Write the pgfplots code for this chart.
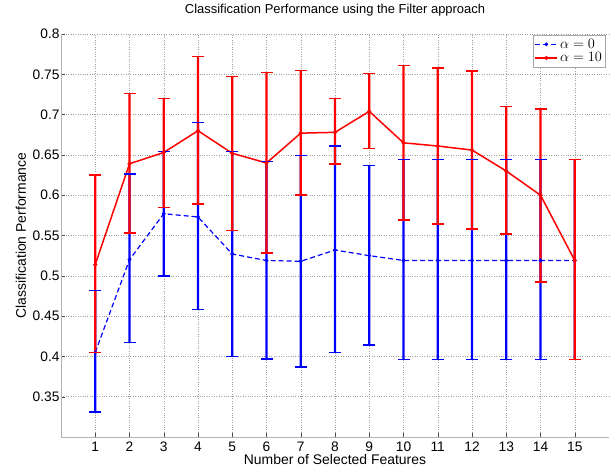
\documentclass[border=0pt]{standalone}
\usepackage{fontspec}
\setmainfont{Liberation Sans}
\usepackage{pgfplots}
\usepackage{pgfplotstable}
\pgfplotsset{compat=1.18}

\pgfplotstableread{
x y top bot
1 0.405 0.482 0.331
2 0.520 0.626 0.417
3 0.577 0.654 0.500
4 0.573 0.690 0.458
5 0.527 0.654 0.400
6 0.519 0.642 0.397
7 0.518 0.649 0.387
8 0.532 0.661 0.405
9 0.525 0.637 0.414
10 0.519 0.644 0.396
11 0.519 0.644 0.396
12 0.519 0.644 0.396
13 0.519 0.644 0.396
14 0.519 0.644 0.396
15 0.519 0.644 0.396
}\bluetab

\pgfplotstableread{
x y top bot
1 0.514 0.625 0.405
2 0.639 0.726 0.553
3 0.653 0.720 0.585
4 0.680 0.772 0.589
5 0.652 0.747 0.556
6 0.640 0.752 0.528
7 0.677 0.755 0.600
8 0.678 0.720 0.639
9 0.704 0.751 0.658
10 0.665 0.761 0.569
11 0.661 0.758 0.564
12 0.656 0.754 0.558
13 0.630 0.710 0.552
14 0.600 0.707 0.492
15 0.519 0.644 0.396
}\redtab

\begin{document}
\begin{tikzpicture}
\begin{axis}[
  name=a,
  scale only axis,
  width=548bp, height=403bp,
  xmin=0, xmax=16, ymin=0.3, ymax=0.8,
  xtick={1,...,15},
  ytick={0.35,0.4,0.45,0.5,0.55,0.6,0.65,0.7,0.75,0.8},
  xticklabel={\mbox{\pgfmathprintnumber[assume math mode=true]{\tick}}},
  yticklabel={\mbox{\pgfmathprintnumber[assume math mode=true]{\tick}}},
  axis lines*=left,
  axis line style={gray!60, line width=0.8bp},
  tick style={gray!60!black},
  tick align=inside,
  major tick length=4bp,
  grid=major,
  major grid style={dotted, gray!75, line width=0.5bp},
  tick label style={font=\fontsize{13.8}{15}\selectfont},
  xticklabel style={anchor=center, inner sep=0pt, yshift=-9.5bp},
  yticklabel style={xshift=2bp},
  /pgf/number format/assume math mode=true,
  title={Classification Performance using the Filter approach},
  title style={font=\fontsize{13}{15}\selectfont, at={(axis description cs:0.5,1)}, anchor=center, yshift=18bp},
  xlabel={Number of Selected Features},
  ylabel={Classification Performance},
  label style={font=\fontsize{14}{16}\selectfont},
  xlabel style={at={(axis description cs:0.5,0)}, anchor=base, inner sep=0pt, yshift=-27bp},
  ylabel style={at={(axis description cs:-0.073,0.5)}, anchor=center},
  legend style={at={(rel axis cs:0.994,0.997)}, anchor=north east,
    draw=gray!70, font=\fontsize{14}{16}\selectfont,
    row sep=-1bp, inner sep=1.5bp},
  legend cell align=left,
  legend image code/.code={\draw[mark repeat=2,mark phase=2,#1] plot coordinates {(0bp,0bp) (11bp,0bp) (22bp,0bp)};},
  unbounded coords=jump,
]
% blue error bars (alpha = 0), as thin filled bars
\addplot[fill=blue, draw=none, forget plot] coordinates {
 (0.97,0.331) (1.03,0.331) (1.03,0.482) (0.97,0.482) (1,nan)
 (1.97,0.417) (2.03,0.417) (2.03,0.626) (1.97,0.626) (2,nan)
 (2.97,0.500) (3.03,0.500) (3.03,0.654) (2.97,0.654) (3,nan)
 (3.97,0.458) (4.03,0.458) (4.03,0.690) (3.97,0.690) (4,nan)
 (4.97,0.400) (5.03,0.400) (5.03,0.654) (4.97,0.654) (5,nan)
 (5.97,0.397) (6.03,0.397) (6.03,0.642) (5.97,0.642) (6,nan)
 (6.97,0.387) (7.03,0.387) (7.03,0.649) (6.97,0.649) (7,nan)
 (7.97,0.405) (8.03,0.405) (8.03,0.661) (7.97,0.661) (8,nan)
 (8.97,0.414) (9.03,0.414) (9.03,0.637) (8.97,0.637) (9,nan)
 (9.97,0.396) (10.03,0.396) (10.03,0.644) (9.97,0.644) (10,nan)
 (10.97,0.396) (11.03,0.396) (11.03,0.644) (10.97,0.644) (11,nan)
 (11.97,0.396) (12.03,0.396) (12.03,0.644) (11.97,0.644) (12,nan)
 (12.97,0.396) (13.03,0.396) (13.03,0.644) (12.97,0.644) (13,nan)
 (13.97,0.396) (14.03,0.396) (14.03,0.644) (13.97,0.644) (14,nan)
 (14.97,0.396) (15.03,0.396) (15.03,0.644) (14.97,0.644)
};
\addplot[blue, only marks, mark=-, mark size=6bp, mark options={solid, line width=1.5bp}, forget plot] table[x=x, y=top] {\bluetab};
\addplot[blue, only marks, mark=-, mark size=6bp, mark options={solid, line width=1.5bp}, forget plot] table[x=x, y=bot] {\bluetab};
\addplot[blue, dash pattern=on 5bp off 3bp, line width=1.2bp, mark=*, mark size=1.2bp, mark options={solid}]
  table[x=x, y=y] {\bluetab};
\addlegendentry{$\alpha = 0$}
% red error bars (alpha = 10), as thin filled bars
\addplot[fill=red, draw=none, forget plot] coordinates {
 (0.97,0.405) (1.03,0.405) (1.03,0.625) (0.97,0.625) (1,nan)
 (1.97,0.553) (2.03,0.553) (2.03,0.726) (1.97,0.726) (2,nan)
 (2.97,0.585) (3.03,0.585) (3.03,0.720) (2.97,0.720) (3,nan)
 (3.97,0.589) (4.03,0.589) (4.03,0.772) (3.97,0.772) (4,nan)
 (4.97,0.556) (5.03,0.556) (5.03,0.747) (4.97,0.747) (5,nan)
 (5.97,0.528) (6.03,0.528) (6.03,0.752) (5.97,0.752) (6,nan)
 (6.97,0.600) (7.03,0.600) (7.03,0.755) (6.97,0.755) (7,nan)
 (7.97,0.639) (8.03,0.639) (8.03,0.720) (7.97,0.720) (8,nan)
 (8.97,0.658) (9.03,0.658) (9.03,0.751) (8.97,0.751) (9,nan)
 (9.97,0.569) (10.03,0.569) (10.03,0.761) (9.97,0.761) (10,nan)
 (10.97,0.564) (11.03,0.564) (11.03,0.758) (10.97,0.758) (11,nan)
 (11.97,0.558) (12.03,0.558) (12.03,0.754) (11.97,0.754) (12,nan)
 (12.97,0.552) (13.03,0.552) (13.03,0.710) (12.97,0.710) (13,nan)
 (13.97,0.492) (14.03,0.492) (14.03,0.707) (13.97,0.707) (14,nan)
 (14.97,0.396) (15.03,0.396) (15.03,0.644) (14.97,0.644)
};
\addplot[red, only marks, mark=-, mark size=6bp, mark options={solid, line width=1.5bp}, forget plot] table[x=x, y=top] {\redtab};
\addplot[red, only marks, mark=-, mark size=6bp, mark options={solid, line width=1.5bp}, forget plot] table[x=x, y=bot] {\redtab};
\addplot[red, solid, line width=1.5bp, mark=*, mark size=1.2bp]
  table[x=x, y=y] {\redtab};
\addlegendentry{$\alpha = 10$}
\end{axis}
\pgfresetboundingbox
\path ([shift={(-61bp,-29bp)}]a.south west) rectangle ([shift={(2bp,34bp)}]a.north east);
\end{tikzpicture}
\end{document}
